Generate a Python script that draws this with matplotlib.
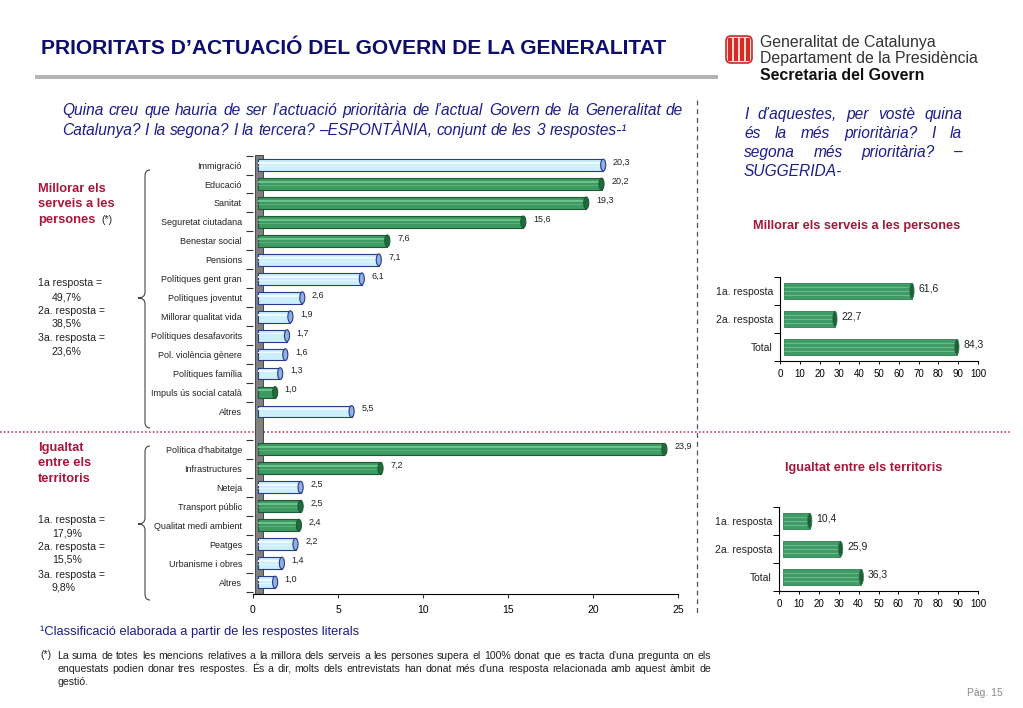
import matplotlib
matplotlib.use('Agg')
import matplotlib.pyplot as plt
from matplotlib import font_manager
from matplotlib.patches import Ellipse, Rectangle, FancyBboxPatch, PathPatch
from matplotlib.path import Path

names = {f.name for f in font_manager.fontManager.ttflist}
BASE = 'Liberation Sans' if 'Liberation Sans' in names else 'DejaVu Sans'
NARROW = 'Liberation Sans Narrow' if 'Liberation Sans Narrow' in names else BASE
plt.rcParams['font.family'] = [BASE, 'DejaVu Sans']

# ---------------- data ----------------
top_categories = ['Immigració', 'Educació', 'Sanitat', 'Seguretat ciutadana', 'Benestar social',
                  'Pensions', 'Polítiques gent gran', 'Polítiques joventut', 'Millorar qualitat vida',
                  'Polítiques desafavorits', 'Pol. violència gènere', 'Polítiques família',
                  'Impuls ús social català', 'Altres']
top_values = [20.3, 20.2, 19.3, 15.6, 7.6, 7.1, 6.1, 2.6, 1.9, 1.7, 1.6, 1.3, 1.0, 5.5]
top_suggested = [False, True, True, True, True, False, False, False, False, False, False, False, True, False]

bottom_categories = ["Política d'habitatge", 'Infrastructures', 'Neteja', 'Transport públic',
                     'Qualitat medi ambient', 'Peatges', 'Urbanisme i obres', 'Altres']
bottom_values = [23.9, 7.2, 2.5, 2.5, 2.4, 2.2, 1.4, 1.0]
bottom_suggested = [True, True, False, True, True, False, False, False]

resp_labels = ['1a. resposta', '2a. resposta', 'Total']
serveis_values = [61.6, 22.7, 84.3]
territoris_values = [10.4, 25.9, 36.3]

serveis_resp = [('1a resposta =', '49,7%'), ('2a. resposta =', '38,5%'), ('3a. resposta =', '23,6%')]
territoris_resp = [('1a. resposta =', '17,9%'), ('2a. resposta =', '15,5%'), ('3a. resposta =', '9,8%')]

main_xticks = [0, 5, 10, 15, 20, 25]
side_xticks = [0, 10, 20, 30, 40, 50, 60, 70, 80, 90, 100]

# ---------------- colours ----------------
NAVY = '#0d0d6b'
QBLUE = '#1c1c8c'
RED = '#a8163a'
TXT = '#222222'
BLUE_P = dict(fill='#cdeefb', edge='#283c8c', stripe='#eefaff', cap='#8fb0e0')
GREEN_P = dict(fill='#3d9b62', edge='#1d5a34', stripe='#6cc08a', cap='#1e6b3c')
SIDE_P = dict(fill='#3f9c66', edge='#2f7f50', stripe='#6dbb8a', cap='#1f5e38')


def fmt(v):
    return f'{v:.1f}'.replace('.', ',')


fig = plt.figure(figsize=(10.23, 7.08), dpi=100)
bg = fig.add_axes([0, 0, 1, 1])
bg.set_xlim(0, 1023)
bg.set_ylim(708, 0)
bg.axis('off')
R = fig.canvas.get_renderer()


def fa(l, t, r, b):
    return [l / 1023, 1 - b / 708, (r - l) / 1023, (b - t) / 708]


def text_width(s, **kw):
    t = bg.text(0, 0, s, **kw)
    w = t.get_window_extent(R).width
    t.remove()
    return w


def fit_size(s, target, start=10, **kw):
    w = text_width(s, fontsize=start, **kw)
    return start * target / w


def justify(lines, x0, x1, ys, **kw):
    """ys are visual centres of the lines; words share one baseline."""
    space = text_width('a a', **kw) - text_width('aa', **kw)
    fs = kw.get('fontsize', 10)
    for i, (line, y) in enumerate(zip(lines, ys)):
        base = y + 0.5 * fs * 0.72 * 100 / 72
        words = line.split()
        ts = [bg.text(0, base, w, ha='left', va='baseline', **kw) for w in words]
        widths = [t.get_window_extent(R).width for t in ts]
        if i == len(lines) - 1 or len(words) == 1:
            gap = space
        else:
            gap = (x1 - x0 - sum(widths)) / (len(words) - 1)
        x = x0
        for t, w in zip(ts, widths):
            t.set_x(x)
            x += w + gap


# ---------------- header ----------------
title = 'PRIORITATS D’ACTUACIÓ DEL GOVERN DE LA GENERALITAT'
ts = fit_size(title, 626, 14, fontweight='bold')
bg.text(41, 48, title, fontsize=ts, fontweight='bold', color=NAVY, va='center', ha='left')
bg.add_patch(Rectangle((35, 75), 683, 4, color='#b3b3b3', lw=0))

# logo
bg.add_patch(FancyBboxPatch((726, 36), 26, 27, boxstyle='round,pad=0,rounding_size=5',
                            fc='#f7d9c8', ec='#cc2a2a', lw=1.2))
for sx in [730, 736, 742, 748]:
    bg.add_patch(Rectangle((sx - 1.6, 38), 3.2, 23, color='#d42a2a', lw=0))
ls = fit_size('Departament de la Presidència', 218, 10)
bg.text(760, 47.5, 'Generalitat de Catalunya', fontsize=ls, color='#333333', va='baseline')
bg.text(760, 63, 'Departament de la Presidència', fontsize=ls, color='#333333', va='baseline')
bg.text(760, 80, 'Secretaria del Govern', fontsize=ls, color='#111111', fontweight='bold', va='baseline')

# questions
q1 = ['Quina creu que hauria de ser l’actuació prioritària de l’actual Govern de la Generalitat de',
      'Catalunya? I la segona? I la tercera? –ESPONTÀNIA, conjunt de les 3 respostes-¹']
qs = fit_size(q1[0], 612, 10, style='italic')
justify(q1, 62, 683, [109, 129], fontsize=qs, style='italic', color=QBLUE)
q2 = ['I d’aquestes, per vostè quina', 'és la més prioritària? I la',
      'segona més prioritària? –', 'SUGGERIDA-']
justify(q2, 744, 962, [113, 132, 151, 170], fontsize=11.2, style='italic', color=QBLUE)

# separators
bg.plot([697, 697], [100, 615], color='#555555', ls=(0, (4, 3)), lw=0.9)
bg.plot([0, 1010], [432, 432], color='#c0283c', ls=(0, (1, 1.5)), lw=1.1)

# left group labels
gs = fit_size('serveis a les', 77, 9, fontweight='bold')
for txt, y in zip(['Millorar els', 'serveis a les', 'persones'], [189, 204, 220]):
    t = bg.text(38, y, txt, fontsize=gs, fontweight='bold', color=RED, va='center')
w = t.get_window_extent(R).width
bg.text(38 + w + 6, 220, '(*)', fontsize=7.5, color=TXT, va='center')
rs = fit_size('1a resposta =', 64, 7)
yy = [283, 297, 311, 324, 338, 352]
for k, (lab, pct) in enumerate(serveis_resp):
    bg.text(38, yy[2 * k], lab, fontsize=rs, color=TXT, va='center')
    bg.text(52, yy[2 * k + 1], pct, fontsize=rs, color=TXT, va='center')

for txt, y in zip(['Igualtat', 'entre els', 'territoris'], [448, 463, 479]):
    bg.text(38, y, txt, fontsize=gs, fontweight='bold', color=RED, va='center')
yy = [520, 533, 547, 560, 575, 588]
for k, (lab, pct) in enumerate(territoris_resp):
    bg.text(38, yy[2 * k], lab, fontsize=rs, color=TXT, va='center')
    bg.text(52, yy[2 * k + 1], pct, fontsize=rs, color=TXT, va='center')


# braces
def brace(x0, tip, y1, y2, ym):
    verts = [(x0 + 5, y1), (x0, y1), (x0, y1 + 6),
             (x0, ym - 6),
             (x0, ym), (tip, ym),
             (x0, ym), (x0, ym + 6),
             (x0, y2 - 6),
             (x0, y2), (x0 + 5, y2)]
    codes = [Path.MOVETO, Path.CURVE3, Path.CURVE3, Path.LINETO, Path.CURVE3, Path.CURVE3,
             Path.CURVE3, Path.CURVE3, Path.LINETO, Path.CURVE3, Path.CURVE3]
    bg.add_patch(PathPatch(Path(verts, codes), fc='none', ec='#444444', lw=0.8))


brace(145, 138, 170, 428, 298)
brace(145, 138, 446, 600, 524)


# ---------------- bar drawing ----------------
def cyl_bars(ax, ys, vals, palettes, h, left, cap_w, fs, offset):
    for y, v, p in zip(ys, vals, palettes):
        ax.barh(y, v, height=h, left=left, color=p['fill'], edgecolor=p['edge'], lw=0.8, zorder=3)
        ax.barh(y - h * 0.18, v, height=h * 0.16, left=left, color=p['stripe'], lw=0, zorder=3.5)
        ax.barh(y + h * 0.12, v, height=h * 0.06, left=left, color=p['stripe'], lw=0, zorder=3.5, alpha=0.6)
        ax.add_patch(Ellipse((left + v, y), cap_w, h, fc=p['cap'], ec=p['edge'], lw=0.8, zorder=4))
        ax.annotate(fmt(v), (left + v, y), xytext=(offset, 2), textcoords='offset points',
                    fontsize=fs, va='center', ha='left', color=TXT)


# ---------------- main chart ----------------
ax = fig.add_axes(fa(253, 155, 678, 594))
pos_top = list(range(len(top_categories)))
pos_bot = [len(top_categories) + 1 + i for i in range(len(bottom_categories))]
positions = pos_top + pos_bot
cats = top_categories + bottom_categories
vals = top_values + bottom_values
pals = [GREEN_P if s else BLUE_P for s in top_suggested + bottom_suggested]

ax.set_xlim(0, 25)
ax.set_ylim(positions[-1] + 0.63, -0.53)
ax.axvspan(0.12, 0.6, color='#808080', ec='#333333', lw=0.6, zorder=1)
cyl_bars(ax, positions, vals, pals, 0.62, 0.3, 0.3, 6.5, 7)

ax.set_yticks(positions)
ax.set_yticklabels(cats, fontsize=6.5, color=TXT)
ax.tick_params(axis='y', which='major', length=0, pad=8)
ax.set_yticks([p - 0.5 for p in positions] + [positions[-1] + 0.5], minor=True)
ax.tick_params(axis='y', which='minor', length=5, width=0.8, direction='out', color='#333333')
ax.set_xticks(main_xticks)
ax.set_xticklabels([str(t) for t in main_xticks])
ax.tick_params(axis='x', length=3, width=0.8, labelsize=7.5, pad=5, color='#333333')
for s in ['top', 'right', 'left']:
    ax.spines[s].set_visible(False)
ax.spines['bottom'].set_linewidth(0.8)
ax.patch.set_alpha(0)


# ---------------- side charts ----------------
def side_chart(rect, values):
    a = fig.add_axes(rect)
    ys = list(range(len(resp_labels)))
    a.set_xlim(0, 100)
    a.set_ylim(len(ys) - 0.5, -0.5)
    for y, v in zip(ys, values):
        a.barh(y, v + 3, height=0.55, left=2, color=SIDE_P['fill'], edgecolor=SIDE_P['edge'], lw=0.6, zorder=3)
        for off in (-0.15, 0.0, 0.15):
            a.hlines(y + off, 2, v + 5, color=SIDE_P['stripe'], lw=0.7, zorder=3.5)
        a.add_patch(Ellipse((v + 5, y), 2.2, 0.55, fc=SIDE_P['cap'], ec=SIDE_P['edge'], lw=0.6, zorder=4))
        a.annotate(fmt(v), (v + 5, y), xytext=(5, 2), textcoords='offset points',
                   fontsize=7.5, va='center', ha='left', color=TXT)
    a.set_yticks(ys)
    a.set_yticklabels(resp_labels, fontsize=7.5, color=TXT)
    a.tick_params(axis='y', which='major', length=0, pad=5)
    a.set_yticks([y - 0.5 for y in ys] + [ys[-1] + 0.5], minor=True)
    a.tick_params(axis='y', which='minor', length=4, width=0.7, direction='out')
    a.set_xticks(side_xticks)
    a.tick_params(axis='x', length=2, width=0.7, labelsize=7, pad=4)
    for s in ['top', 'right']:
        a.spines[s].set_visible(False)
    for s in ['left', 'bottom']:
        a.spines[s].set_linewidth(0.8)
    a.patch.set_alpha(0)


side_chart(fa(780, 277, 978, 361), serveis_values)
side_chart(fa(779, 507, 978, 591), territoris_values)
hs = fit_size('Millorar els serveis a les persones', 208, 9, fontweight='bold')
bg.text(857, 226, 'Millorar els serveis a les persones', fontsize=hs, fontweight='bold',
        color=RED, ha='center', va='center')
bg.text(864, 468, 'Igualtat entre els territoris', fontsize=hs, fontweight='bold',
        color=RED, ha='center', va='center')

# ---------------- footnotes ----------------
fn = '¹Classificació elaborada a partir de les respostes literals'
fs1 = fit_size(fn, 322, 9, family=NARROW)
bg.text(40, 632, fn, fontsize=fs1, family=NARROW, color=QBLUE, va='center')
note = ['La suma de totes les mencions relatives a la millora dels serveis a les persones supera el 100% donat que es tracta d’una pregunta on els',
        'enquestats podien donar tres respostes. És a dir, molts dels entrevistats han donat més d’una resposta relacionada amb aquest àmbit de',
        'gestió.']
ns = fit_size(note[0], 645, 8, family=NARROW)
bg.text(40, 655, '(*)', fontsize=ns, family=NARROW, color=TXT, va='center')
justify(note, 57, 711, [655, 668, 681], fontsize=ns, family=NARROW, color=TXT)
bg.text(1003, 693, 'Pàg. 15', fontsize=7.5, color='#8a8a8a', ha='right', va='center')

fig.savefig('out.png', dpi=100)
